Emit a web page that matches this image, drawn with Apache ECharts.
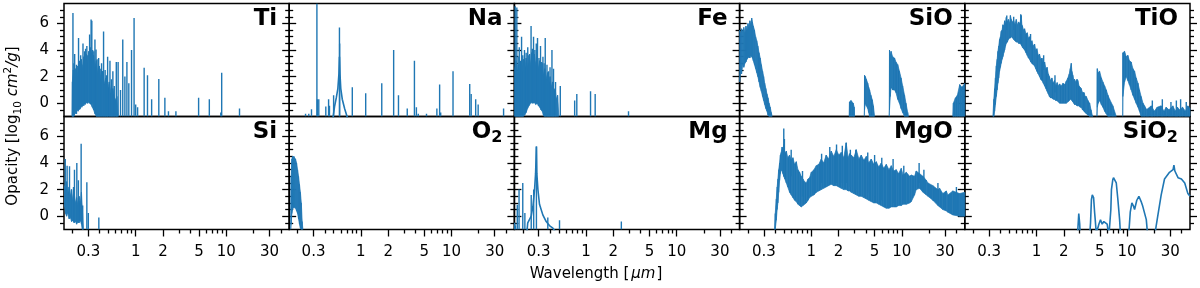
<!DOCTYPE html>
<html><head><meta charset="utf-8">
<script src="https://cdn.jsdelivr.net/npm/echarts@6/dist/echarts.min.js"></script>
<style>html,body{margin:0;padding:0;background:#fff}#c{width:1200px;height:288px}</style>
</head><body><div id="c"></div>
<script>
// ---------- axis ticks ----------
const xTickValues = [0.3, 1, 2, 5, 10, 30];
const xTickLabels = ['0.3', '1', '2', '5', '10', '30'];
const xMinorValues = [0.2, 0.4, 0.5, 0.6, 0.7, 0.8, 0.9, 3, 4, 6, 7, 8, 9, 20, 40];
const yTickValues = [0, 2, 4, 6];
const yMinorValues = [-0.5, 0.5, 1, 1.5, 2.5, 3, 3.5, 4.5, 5, 5.5, 6.5, 7];
const xRange = [0.1617, 49.5];
const yRange = [-1, 7.5];
const panelTitles = ['Ti', 'Na', 'Fe', 'SiO', 'TiO', 'Si', 'O2', 'Mg', 'MgO', 'SiO2'];

// ---------- data: [wavelength um, low, high] ----------
const tiBand = [[0.198,-1,-1],[0.200,-1,1.6],[0.205,-1,2.5],[0.210,-0.9,1.7],[0.215,-0.7,2.6],[0.220,-0.8,1.9],[0.226,-0.5,2.8],[0.232,-0.6,2.1],[0.238,-0.3,3.1],[0.245,-0.4,2.3],[0.252,-0.2,3.3],[0.260,-0.2,2.5],[0.268,0.0,3.5],[0.276,-0.1,2.7],[0.285,0.1,3.7],[0.294,0.0,3.0],[0.303,0.1,3.9],[0.312,0.0,3.2],[0.322,-0.1,3.8],[0.332,-0.3,3.0],[0.343,-0.5,3.6],[0.355,-0.8,2.7],[0.368,-1,3.2],[0.382,-1,2.2],[0.397,-1,2.8],[0.413,-1,1.8],[0.430,-1,2.4],[0.448,-1,1.4],[0.467,-1,1.9],[0.488,-1,1.0],[0.510,-1,1.6],[0.535,-1,0.7],[0.560,-1,1.1],[0.590,-1,0.2],[0.620,-1,0.5],[0.640,-1,-1]];
const tiLines = [[0.203,-1,6.79],[0.208,-1,3.0],[0.212,-0.8,3.7],[0.222,-0.8,2.9],[0.234,-0.5,4.91],[0.24,-0.5,3.2],[0.247,-0.3,3.6],[0.255,-0.3,2.9],[0.262,-0.2,4.5],[0.268,-0.2,3.3],[0.273,0,3.9],[0.28,0,4.1],[0.289,0,4.3],[0.296,0,3.6],[0.31,0,5.16],[0.316,0,4.2],[0.322,0,6.3],[0.328,0,6.2],[0.335,0,4.0],[0.345,-0.5,3.9],[0.355,-0.5,4.79],[0.365,-0.8,4.04],[0.375,-1,3.3],[0.39,-1,3.4],[0.405,-1,2.6],[0.42,-1,3.0],[0.442,-1,5.4],[0.46,-1,2.5],[0.475,-1,2.1],[0.49,-1,3.5],[0.52,-1,3.2],[0.54,-1,1.8],[0.56,-1,2.4],[0.58,-1,1.3],[0.611,-1,3.1],[0.64,-1,3.1],[0.68,-1,1.0],[0.72,-1,4.8],[0.76,-1,2.0],[0.80,-1,3.1],[0.84,-1,1.5],[0.90,-1,4.0],[0.96,-1,6.4],[1.0,-1,-0.1],[1.05,-1,-0.3],[1.24,-1,2.66],[1.35,-1,2.1],[1.5,-1,0.29],[1.8,-1,1.83],[2.1,-1,0.41],[2.3,-1,-0.6],[2.78,-1,-0.6],[4.95,-1,0.41],[6.5,-1,0.3],[8.7,-1,-0.7],[8.9,-1,2.3],[14.0,-1,-0.4]];

const naLines = [[0.245,-1,-0.8],[0.266,-1,-0.8],[0.285,-1,-0.45],[0.327,-1,7.5],[0.331,-1,0.3],[0.343,-1,0.3],[0.41,-1,-0.25],[0.44,-1,0.3],[0.45,-1,-0.2],[0.50,-1,0.6],[0.58,-1,5.7],[0.583,-1,4.5],[0.804,-1,1.2],[1.13,-1,0.75],[1.70,-1,1.5],[2.3,-1,4.0],[2.6,-1,0.6],[3.25,-1,-0.4],[3.9,-1,3.2],[4.1,-1,-0.3],[4.3,-1,-0.8],[5.3,-1,-0.8],[6.9,-1,-0.4],[7.4,-1,1.4],[7.6,-1,-0.7],[10.4,-1,2.4],[15.9,-1,1.45],[16.5,-1,0.7],[18.5,-1,0.3],[19.7,-1,-0.1],[37.6,-1,-0.4]];
const naWing = [[0.49,-1.2],[0.512,-0.25],[0.535,0.4],[0.557,1.1],[0.572,2.2],[0.58,3.5],[0.588,2.2],[0.60,1.1],[0.623,0.3],[0.661,-0.4],[0.718,-1.2]];

const feBand = [[0.163,-1,2.6],[0.168,-1,3.2],[0.173,-1,2.2],[0.178,-1,2.9],[0.184,-1,2.0],[0.19,-1,3.0],[0.196,-1,2.3],[0.203,-1,3.3],[0.21,-0.9,2.5],[0.218,-0.7,3.4],[0.226,-0.4,2.6],[0.234,-0.2,3.6],[0.242,0.0,2.8],[0.25,0.1,3.8],[0.259,0.0,3.0],[0.268,0.1,3.7],[0.278,-0.1,2.9],[0.288,0.0,3.5],[0.298,-0.2,2.6],[0.308,-0.3,3.2],[0.318,-0.5,2.4],[0.328,-0.6,3.0],[0.338,-0.9,2.1],[0.35,-1,2.6],[0.362,-1,1.8],[0.375,-1,2.3],[0.388,-1,1.5],[0.40,-1,2.0],[0.413,-1,1.2],[0.427,-1,1.6],[0.44,-1,0.9],[0.455,-1,1.1],[0.47,-1,0.3],[0.485,-1,0.6],[0.50,-1,-1]];
const feLines = [[0.165,-1,7.3],[0.172,-1,7.2],[0.178,-1,3.5],[0.183,-1,4.2],[0.188,-1,3.2],[0.194,-1,5.0],[0.2,-1,3.6],[0.209,-0.8,4.0],[0.218,-0.6,3.8],[0.227,-0.3,4.2],[0.238,-0.1,3.7],[0.247,0,5.8],[0.255,0,4.1],[0.263,0,5.0],[0.272,0,4.0],[0.282,0,4.5],[0.291,0,4.9],[0.302,-0.2,3.4],[0.314,-0.3,4.3],[0.324,-0.5,3.1],[0.334,-0.6,3.5],[0.344,-1,3.0],[0.354,-1,4.9],[0.37,-1,2.9],[0.385,-1,2.4],[0.40,-1,2.7],[0.42,-1,4.0],[0.437,-1,2.6],[0.46,-1,1.6],[0.519,-1,1.3],[0.748,-1,0.2],[0.79,-1,0.7],[1.12,-1,0.9],[1.26,-1,0.7],[2.94,-1,-0.6]];

const sioBand1 = [[0.162,1.6,5.5],[0.166,2.4,5.2],[0.17,2.2,5.6],[0.175,2.9,5.4],[0.18,2.7,5.7],[0.185,3.0,5.3],[0.19,3.1,5.8],[0.195,3.3,5.5],[0.2,3.4,6.0],[0.205,3.5,5.7],[0.21,3.4,6.2],[0.215,3.6,5.9],[0.22,3.5,6.4],[0.224,3.4,6.1],[0.229,3.2,5.8],[0.236,2.9,5.5],[0.243,2.6,5.0],[0.25,2.3,4.7],[0.257,2.0,4.3],[0.265,1.6,3.8],[0.273,1.2,3.4],[0.281,0.9,2.9],[0.29,0.5,2.4],[0.298,0.2,2.0],[0.306,-0.1,1.5],[0.315,-0.4,1.1],[0.324,-0.6,0.7],[0.333,-0.9,0.4],[0.342,-1,0.0],[0.352,-1,-0.3],[0.362,-1,-0.7],[0.37,-1,-1]];
const sioBand2 = [[2.62,-1,-1],[2.64,-1,0.1],[2.75,-1,0.2],[2.9,-1,0.0],[2.98,-1,-0.3],[3.0,-1,-1]];
const sioBand3 = [[3.85,-1,-1],[3.87,-0.5,2.1],[3.95,0.0,2.0],[4.05,-0.2,1.8],[4.2,-0.4,1.5],[4.3,-0.7,1.2],[4.4,-1,1.0],[4.55,-1,0.6],[4.71,-1,0.26],[4.85,-1,-0.2],[5.0,-1,-1]];
const sioBand4 = [[7.25,-1,-1],[7.3,-0.5,4.0],[7.45,0.5,3.6],[7.6,1.2,3.9],[7.9,1.0,3.5],[8.3,1.0,3.4],[8.6,0.8,3.1],[9.0,0.3,2.9],[9.4,0.0,2.4],[9.8,-0.4,1.9],[10.2,-0.7,1.3],[10.7,-1,0.6],[11.1,-1,0.0],[11.6,-1,-0.7],[11.8,-1,-1]];
const sioBand5 = [[36.5,-1,-1],[37,-1,0.0],[39,-1,0.4],[41,-1,0.6],[43.5,-1,1.4],[46,-1,1.2],[49.5,-1,1.5]];

const tioBand1 = [[0.330,-1,-1],[0.338,-1,0.3],[0.345,-0.6,1.1],[0.352,-0.1,1.9],[0.360,0.5,2.8],[0.368,1.0,3.3],[0.375,1.5,3.9],[0.383,1.9,4.3],[0.391,2.4,4.8],[0.400,2.7,5.0],[0.408,3.0,5.4],[0.417,3.3,5.5],[0.426,3.5,5.9],[0.436,3.8,5.8],[0.445,4.0,6.2],[0.455,4.3,6.0],[0.464,4.5,6.45],[0.477,4.6,6.1],[0.490,4.8,6.3],[0.505,4.9,6.0],[0.515,4.9,6.6],[0.527,5.0,6.3],[0.545,4.9,6.1],[0.560,4.8,6.2],[0.578,4.7,5.9],[0.598,4.6,6.3],[0.617,4.6,5.9],[0.635,4.5,6.1],[0.657,4.5,6.0],[0.679,4.4,6.6],[0.690,4.3,5.9],[0.70,4.2,5.8],[0.72,4.1,5.5],[0.739,4.0,5.6],[0.765,3.8,5.2],[0.79,3.6,5.3],[0.815,3.4,4.9],[0.839,3.3,5.0],[0.865,3.1,4.6],[0.89,3.0,4.7],[0.92,2.9,4.3],[0.953,2.8,4.45],[0.98,2.6,4.0],[1.01,2.4,4.1],[1.045,2.2,3.6],[1.08,2.0,3.7],[1.115,1.8,3.3],[1.15,1.7,3.4],[1.19,1.5,3.0],[1.23,1.3,3.1],[1.27,1.1,2.6],[1.31,0.9,2.7],[1.35,0.7,2.2],[1.39,0.5,2.0],[1.43,0.4,1.7],[1.48,0.4,1.9],[1.53,0.3,1.5],[1.58,0.3,1.7],[1.63,0.2,1.3],[1.69,0.2,1.55],[1.74,0.1,1.3],[1.80,0.0,1.45],[1.88,0.0,1.3],[1.96,0.0,1.5],[2.05,0.0,1.4],[2.13,0.0,1.65],[2.22,0.1,1.9],[2.30,0.2,2.2],[2.36,0.3,2.6],[2.42,0.3,3.0],[2.46,0.2,2.4],[2.52,0.1,2.1],[2.58,0.0,1.7],[2.63,-0.1,1.8],[2.72,-0.1,1.6],[2.80,-0.2,1.8],[2.86,-0.2,1.7],[2.95,-0.2,1.3],[3.03,-0.3,1.2],[3.12,-0.3,1.1],[3.22,-0.5,0.8],[3.35,-0.6,0.8],[3.45,-0.7,0.5],[3.55,-0.8,0.5],[3.70,-0.9,0.2],[3.86,-1,0.0],[4.0,-1,-0.5],[4.13,-1,-0.9],[4.2,-1,-1]];
const tioBand2 = [[4.65,-1,-1],[4.69,-0.3,2.6],[4.8,0.0,2.3],[4.97,0.2,2.4],[5.2,-0.1,1.9],[5.41,-0.3,1.6],[5.65,-0.6,1.3],[5.89,-0.8,1.0],[6.15,-1,0.6],[6.41,-1,0.3],[6.97,-1,-0.2],[7.6,-1,-1]];
const tioBand3 = [[8.95,-1,-1],[8.99,0.5,3.8],[9.38,1.6,3.9],[9.8,2.0,3.5],[10.2,1.7,3.6],[10.6,1.4,3.2],[11.1,1.0,3.1],[11.6,0.6,2.6],[12.1,0.3,2.4],[12.6,0.0,1.9],[13.2,-0.3,1.5],[13.7,-0.6,1.0],[14.3,-1,0.5],[15.0,-1,0.0],[15.6,-1,-0.2],[16.5,-1,-0.5]];
const tioBand4 = [[16.5,-1,-0.5],[17,-1,-0.4],[18.5,-1,-0.2],[20,-1,-0.6],[21.5,-1,-0.3],[23.8,-1,-0.2],[25.5,-1,-0.6],[27,-1,-0.3],[29,-1,-0.5],[32,-1,-0.2],[34,-1,-0.6],[36,-1,-0.3],[38,-1,-0.5],[41,-1,-0.3],[44,-1,-0.6],[46.9,-1,-0.2],[49.5,-1,-0.4]];
const tioLines = [[0.47,5.5,6.6],[0.56,5.5,6.5],[0.67,5.2,6.7],[0.86,4.2,5.2],[1.2,2.5,3.6],[1.6,0.8,2.1],[19.0,-1,0.2],[24.5,-1,0.3],[30.5,-1,0.1],[35,-1,0.2],[39,-1,0.3],[45,-1,0.1]];

const siBand = [[0.163,0.9,2.3],[0.168,0.2,1.8],[0.173,0.0,2.6],[0.178,0.3,1.7],[0.184,-0.2,2.2],[0.19,-0.1,1.5],[0.196,-0.4,2.0],[0.202,-0.3,1.2],[0.209,-0.5,1.8],[0.216,-0.4,1.0],[0.223,-0.6,1.4],[0.23,-0.4,0.8],[0.237,-0.5,1.5],[0.245,-0.3,1.0],[0.252,-0.6,1.8],[0.258,-1,0.5],[0.265,-1,-1]];
const siLines = [[0.167,0.7,4.3],[0.175,0.2,3.8],[0.186,0.0,3.75],[0.195,-0.2,2.0],[0.206,-0.4,2.2],[0.211,-0.4,3.5],[0.224,-0.5,4.0],[0.233,-0.5,2.7],[0.250,-0.4,5.45],[0.26,-1,0.8],[0.289,-1,2.55],[0.30,-1,0.25],[0.392,-1,-0.1]];

const o2Band = [[0.168,-1,-1],[0.17,-0.6,3.0],[0.173,0.2,4.3],[0.176,0.5,4.5],[0.179,0.8,4.4],[0.182,0.6,4.5],[0.185,0.7,4.4],[0.19,0.6,4.3],[0.195,0.4,4.0],[0.2,0.2,3.5],[0.205,-0.2,3.0],[0.21,-0.6,2.4],[0.215,-0.9,1.8],[0.22,-1,1.0],[0.225,-1,-0.4],[0.229,-1,-1]];

const mgLines = [[0.163,-1,-0.5],[0.166,-1,-0.7],[0.174,-1,0.86],[0.182,-1,2.0],[0.2,-1,2.5],[0.211,-1,0.24],[0.248,-1,1.6],[0.264,-1,2.0],[0.283,-1,5.24],[0.378,-1,-0.1],[0.509,-1,-0.3],[2.45,-1,-0.4]];
const mgWing = [[0.222,-1.2],[0.227,-0.5],[0.248,0.0],[0.259,0.75],[0.27,2.0],[0.277,3.2],[0.283,5.24],[0.286,3.2],[0.294,2.0],[0.306,0.9],[0.333,0.1],[0.363,-0.4],[0.394,-0.7],[0.43,-0.9],[0.46,-1.2]];

const mgoBand = [[0.393,-1,-1],[0.40,-1,0.2],[0.411,-0.3,1.3],[0.42,0.5,2.2],[0.428,1.0,2.8],[0.437,1.8,3.5],[0.447,2.7,4.0],[0.456,3.2,4.6],[0.466,3.5,4.8],[0.476,3.4,5.2],[0.486,3.2,5.0],[0.497,3.0,5.4],[0.51,2.8,4.7],[0.53,2.5,4.9],[0.55,2.2,4.4],[0.576,1.8,4.6],[0.601,1.6,4.2],[0.627,1.4,4.4],[0.654,1.2,3.9],[0.683,1.1,4.1],[0.712,0.9,3.5],[0.743,0.8,3.3],[0.775,0.7,3.0],[0.808,0.8,2.8],[0.844,0.9,2.6],[0.881,1.0,2.5],[0.92,1.2,2.8],[0.958,1.4,2.9],[1.0,1.5,3.3],[1.07,1.6,3.5],[1.135,1.8,3.8],[1.21,1.9,3.9],[1.289,2.0,4.3],[1.37,2.1,4.0],[1.46,2.2,4.6],[1.55,2.3,4.3],[1.66,2.4,4.9],[1.77,2.3,4.5],[1.89,2.3,5.0],[2.01,2.2,4.6],[2.14,2.1,4.8],[2.28,2.0,4.4],[2.43,2.0,5.5],[2.55,1.9,4.4],[2.65,1.9,4.7],[2.76,1.8,4.6],[2.95,1.7,4.4],[3.14,1.6,5.0],[3.35,1.5,4.3],[3.56,1.5,4.6],[3.8,1.4,4.2],[4.05,1.3,4.5],[4.3,1.2,4.0],[4.59,1.1,4.3],[4.9,1.0,3.9],[5.22,1.0,4.1],[5.55,0.9,3.7],[5.92,0.8,4.0],[6.3,0.7,3.6],[6.73,0.6,3.9],[7.2,0.6,3.5],[7.64,0.7,3.8],[8.1,0.7,3.4],[8.67,0.7,3.5],[9.2,0.8,3.2],[9.84,0.8,3.6],[10.3,0.9,3.1],[11.2,0.9,3.3],[12.2,1.0,3.0],[12.7,1.1,3.1],[13.8,1.6,3.0],[14.4,2.0,3.4],[15.7,2.1,3.2],[17.1,1.8,3.0],[18.6,1.6,2.7],[19.4,1.5,2.5],[22.0,1.2,2.3],[25.0,0.8,2.0],[26.1,0.7,2.1],[28.3,0.5,1.7],[30.9,0.4,1.9],[32.2,0.3,1.6],[36.5,0.1,1.9],[43.3,0.0,1.7],[49.5,0.0,1.8]];
const mgoLines = [[0.497,3.0,6.6],[0.505,3.0,5.8],[0.6,3.0,5.0],[0.8,1.5,3.4],[1.3,2.5,4.7],[1.6,2.6,5.2],[1.9,2.5,5.4],[2.2,2.5,5.3],[2.43,2.5,5.54],[2.7,2.2,5.0],[3.1,2.0,5.0],[4.2,1.8,4.8],[5.0,1.5,4.6],[6.0,1.2,4.4],[8.0,1.0,4.3],[10.5,1.2,3.8],[15.5,2.5,4.0],[17.5,2.2,3.5],[25.0,1.2,2.5],[40.0,0.5,2.2]];

const sio2Line = [[2.80,-1.5],[2.86,-1.0],[2.93,0.2],[3.0,-0.6],[3.04,-1.5],[3.86,-1.5],[3.95,-0.5],[4.04,1.24],[4.13,1.6],[4.27,1.4],[4.38,0.3],[4.45,-0.26],[4.56,-1.2],[4.75,-0.9],[4.88,-0.6],[5.09,-0.26],[5.31,-0.6],[5.54,-0.4],[5.78,-0.26],[6.03,-0.6],[6.3,-1.5],[6.5,-1.5],[6.62,0.5],[6.72,2.0],[6.95,2.74],[7.08,2.9],[7.31,2.75],[7.6,2.5],[7.92,1.24],[8.27,-0.26],[8.48,-1.5],[10.4,-1.5],[10.84,0.3],[11.3,1.0],[11.7,0.8],[12.1,0.5],[12.8,1.2],[13.5,1.5],[14.3,1.1],[14.9,0.74],[16.3,-0.26],[16.9,-1.5],[20.1,-1.5],[21.8,0.0],[23.8,1.6],[25.9,2.8],[29.4,3.3],[32.2,3.5],[32.9,3.85],[33.7,3.4],[36.5,2.9],[39.8,2.8],[43.3,2.5],[46.9,1.7],[49.5,1.5]];

// ---------- build ----------
const BLUE = '#1f77b4';
const FONT = 'DejaVu Sans';
const LEFTS = [64, 289.2, 514.4, 739.6, 964.8];
const PW = 225.2, TOPS = [3.5, 116.5], PH = 113;
const lg = Math.log10;

const panels = [
  {bands:[tiBand], spikes:[tiLines], curves:[]},
  {bands:[], spikes:[naLines], curves:[naWing]},
  {bands:[feBand], spikes:[feLines], curves:[]},
  {bands:[sioBand1, sioBand2, sioBand3, sioBand4, sioBand5], spikes:[], curves:[]},
  {bands:[tioBand1, tioBand2, tioBand3, tioBand4], spikes:[tioLines], curves:[]},
  {bands:[siBand], spikes:[siLines], curves:[]},
  {bands:[o2Band], spikes:[], curves:[]},
  {bands:[], spikes:[mgLines], curves:[mgWing]},
  {bands:[mgoBand], spikes:[mgoLines], curves:[]},
  {bands:[], spikes:[], curves:[sio2Line]}
];

const xMajorLog = xTickValues.map(lg);
const xMinorLog = xMinorValues.map(lg);
function fmtX(v) {
  for (let i = 0; i < xMajorLog.length; i++) if (Math.abs(xMajorLog[i] - v) < 1e-6) return xTickLabels[i];
  return '';
}
const tickStyle = {color: '#000', width: 1.3};

function bandItem(params, api) {
  const i = params.dataIndexInside;
  if (i >= params.dataInsideLength - 1) return null;
  const x0 = api.value(0, i), x1 = api.value(0, i + 1);
  const pts = [api.coord([x0, api.value(1, i)]), api.coord([x0, api.value(2, i)]),
               api.coord([x1, api.value(2, i + 1)]), api.coord([x1, api.value(1, i + 1)])];
  return {type: 'polygon', shape: {points: pts}, style: {fill: BLUE, stroke: BLUE, lineWidth: 0.7}};
}
function spikeItem(params, api) {
  const x = api.value(0);
  const a = api.coord([x, api.value(1)]), b = api.coord([x, api.value(2)]);
  return {type: 'line', shape: {x1: a[0], y1: a[1], x2: b[0], y2: b[1]}, style: {stroke: BLUE, lineWidth: 1.4}};
}

const grid = [], xAxis = [], yAxis = [], series = [], graphic = [];
panels.forEach((p, g) => {
  const r = Math.floor(g / 5), c = g % 5;
  grid.push({left: LEFTS[c], top: TOPS[r], width: PW, height: PH, show: true,
             borderColor: '#000', borderWidth: 1.5, backgroundColor: 'rgba(0,0,0,0)'});
  const xBase = {gridIndex: g, type: 'value', min: lg(xRange[0]), max: lg(xRange[1]), position: 'bottom',
                 axisLine: {show: false, onZero: false}, splitLine: {show: false}};
  xAxis.push(Object.assign({}, xBase, {
    axisTick: {show: r === 1, customValues: xMajorLog, length: 7, lineStyle: tickStyle},
    axisLabel: {show: r === 1, customValues: xMajorLog, formatter: fmtX, fontSize: 15, fontFamily: FONT, color: '#000', margin: 15}
  }));
  xAxis.push(Object.assign({}, xBase, {
    axisTick: {show: r === 1, customValues: xMinorLog, length: 4, lineStyle: tickStyle},
    axisLabel: {show: false}
  }));
  ['left', 'right'].forEach(pos => {
    const yBase = {gridIndex: g, type: 'value', min: yRange[0], max: yRange[1], position: pos,
                   axisLine: {show: false, onZero: false}, splitLine: {show: false}};
    yAxis.push(Object.assign({}, yBase, {
      axisTick: {show: true, customValues: yTickValues, length: 7, lineStyle: tickStyle},
      axisLabel: {show: pos === 'left' && c === 0, customValues: yTickValues, fontSize: 15, fontFamily: FONT, color: '#000', margin: 15}
    }));
    yAxis.push(Object.assign({}, yBase, {
      axisTick: {show: true, customValues: yMinorValues, length: 4, lineStyle: tickStyle},
      axisLabel: {show: false}
    }));
  });
  const xi = 2 * g, yi = 4 * g;
  p.bands.forEach(b => series.push({type: 'custom', xAxisIndex: xi, yAxisIndex: yi, clip: true, silent: true,
    renderItem: bandItem, data: b.map(d => [lg(d[0]), d[1], d[2]])}));
  p.spikes.forEach(s => series.push({type: 'custom', xAxisIndex: xi, yAxisIndex: yi, clip: true, silent: true,
    renderItem: spikeItem, data: s.map(d => [lg(d[0]), d[1], d[2]])}));
  p.curves.forEach(cv => series.push({type: 'line', xAxisIndex: xi, yAxisIndex: yi, clip: true, silent: true,
    showSymbol: false, symbol: 'none', lineStyle: {color: BLUE, width: 1.6},
    data: cv.map(d => [lg(d[0]), d[1]])}));

  // panel title
  const t = panelTitles[g];
  const m = t.match(/^(.*?)(\d)$/);
  const titleStyle = m
    ? {text: '{m|' + m[1] + '}{s|' + m[2] + '}', rich: {
        m: {fontSize: 23, fontWeight: 'bold', fontFamily: FONT, lineHeight: 27, fill: '#000'},
        s: {fontSize: 16, fontWeight: 'bold', fontFamily: FONT, verticalAlign: 'bottom', lineHeight: 10, fill: '#000'}}}
    : {text: t, fontSize: 23, fontWeight: 'bold', fontFamily: FONT, lineHeight: 23};
  graphic.push({type: 'text', x: LEFTS[c] + PW - 12, y: TOPS[r] + (m ? 2 : 4), z: 100,
    style: Object.assign({fill: '#000', align: 'right', verticalAlign: 'top'}, titleStyle)});
});

graphic.push({type: 'text', x: 13.5, y: 126, rotation: Math.PI / 2,
  style: {text: '{r|Opacity [log}{sb|10}{i| cm}{sp|2}{i|/g}{r|]}', align: 'center', verticalAlign: 'middle',
    rich: {r: {fontSize: 15, fontFamily: FONT, lineHeight: 21, fill: '#000'},
           i: {fontSize: 15, fontFamily: FONT, fontStyle: 'italic', lineHeight: 21, fill: '#000'},
           sb: {fontSize: 10.5, fontFamily: FONT, verticalAlign: 'bottom', lineHeight: 10, fill: '#000'},
           sp: {fontSize: 10.5, fontFamily: FONT, verticalAlign: 'top', lineHeight: 10, fill: '#000'}}}});
graphic.push({type: 'text', x: 596, y: 274,
  style: {text: '{r|Wavelength [}{i|μm}{r|]}', align: 'center', verticalAlign: 'middle',
    rich: {r: {fontSize: 15, fontFamily: FONT, fill: '#000'},
           i: {fontSize: 15, fontFamily: FONT, fontStyle: 'italic', fill: '#000', padding: [0, 1, 0, 2]}}}});

const chart = echarts.init(document.getElementById('c'), null, {renderer: 'canvas'});
chart.setOption({animation: false, backgroundColor: '#fff', grid, xAxis, yAxis, series, graphic});
</script></body></html>
